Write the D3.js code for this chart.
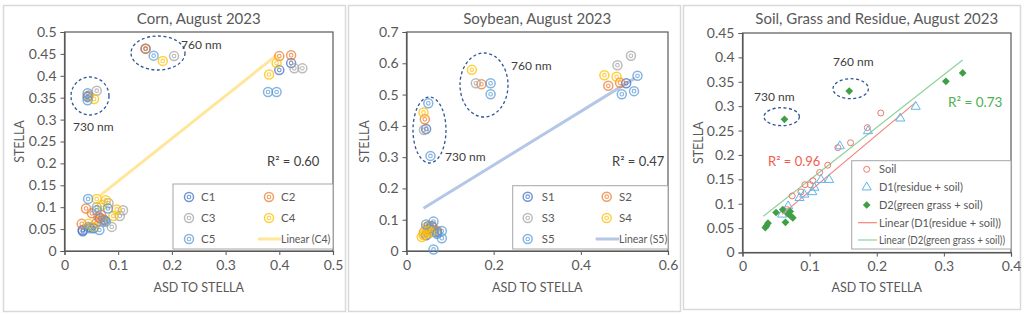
<!DOCTYPE html>
<html>
<head>
<meta charset="utf-8">
<script src="https://cdn.jsdelivr.net/npm/d3@7"></script>
<style>
  body { margin: 0; background: #fff; }
  svg { display: block; font-family: Lato, "Open Sans", sans-serif; }
</style>
</head>
<body>
<svg id="chart" width="1024" height="314"></svg>
<script>
// ---- data ----
const cornNames = ["C1", "C2", "C3", "C4", "C5"];
const cornC1 = [[0.043, 0.352], [0.151, 0.462], [0.422, 0.429], [0.400, 0.413], [0.066, 0.075], [0.034, 0.048], [0.034, 0.045], [0.054, 0.052], [0.045, 0.055], [0.075, 0.070]];
const cornC2 = [[0.045, 0.355], [0.151, 0.462], [0.400, 0.445], [0.422, 0.447], [0.040, 0.097], [0.051, 0.086], [0.063, 0.078], [0.059, 0.063], [0.032, 0.062], [0.068, 0.082], [0.072, 0.072]];
const cornC3 = [[0.060, 0.366], [0.204, 0.445], [0.428, 0.417], [0.443, 0.417], [0.082, 0.109], [0.109, 0.093], [0.103, 0.080], [0.072, 0.067], [0.088, 0.055], [0.060, 0.100]];
const cornC4 = [[0.055, 0.347], [0.183, 0.434], [0.395, 0.429], [0.381, 0.403], [0.060, 0.119], [0.077, 0.116], [0.097, 0.095], [0.091, 0.080], [0.044, 0.062], [0.054, 0.055], [0.070, 0.105]];
const cornC5 = [[0.043, 0.360], [0.043, 0.344], [0.166, 0.446], [0.379, 0.363], [0.395, 0.363], [0.044, 0.119], [0.081, 0.097], [0.060, 0.093], [0.077, 0.067], [0.047, 0.052], [0.065, 0.048]];
const cornTrendX = [0.066, 0.395];
const cornTrendFit = [0.975, 0.062]; // slope, intercept
const cornR2 = "R² = 0.60";

const soyNames = ["S1", "S2", "S3", "S4", "S5"];
const soyS1 = [[0.045, 0.390], [0.504, 0.536], [0.050, 0.070], [0.070, 0.060], [0.045, 0.050], [0.058, 0.080]];
const soyS2 = [[0.042, 0.421], [0.172, 0.533], [0.463, 0.528], [0.490, 0.538], [0.040, 0.060], [0.060, 0.075], [0.070, 0.065], [0.050, 0.080]];
const soyS3 = [[0.040, 0.387], [0.159, 0.536], [0.515, 0.624], [0.484, 0.594], [0.050, 0.055], [0.060, 0.065]];
const soyS4 = [[0.039, 0.443], [0.150, 0.579], [0.454, 0.562], [0.482, 0.557], [0.039, 0.051], [0.035, 0.045], [0.050, 0.065], [0.045, 0.075], [0.055, 0.060]];
const soyS5 = [[0.050, 0.472], [0.055, 0.304], [0.193, 0.536], [0.193, 0.501], [0.530, 0.560], [0.494, 0.501], [0.522, 0.511], [0.062, 0.094], [0.081, 0.064], [0.081, 0.041], [0.062, 0.005], [0.045, 0.085], [0.070, 0.055]];
const soyTrendX = [0.039, 0.524];
const soyTrendFit = [0.858, 0.103];
const soyR2 = "R² = 0.47";

const soilNames = ["Soil", "D1(residue + soil)", "D2(green grass + soil)", "Linear (D1(residue + soil))", "Linear (D2(green grass + soil))"];
const soilPts = [[0.066, 0.088], [0.074, 0.116], [0.087, 0.124], [0.093, 0.139], [0.101, 0.139], [0.105, 0.147], [0.115, 0.164], [0.127, 0.179], [0.142, 0.215], [0.161, 0.225], [0.186, 0.256], [0.206, 0.286]];
const d1Pts = [[0.059, 0.078], [0.068, 0.095], [0.085, 0.112], [0.092, 0.119], [0.104, 0.124], [0.107, 0.133], [0.117, 0.149], [0.129, 0.149], [0.145, 0.218], [0.187, 0.249], [0.235, 0.275], [0.258, 0.299]];
const d2Pts = [[0.034, 0.051], [0.036, 0.055], [0.038, 0.060], [0.050, 0.082], [0.060, 0.088], [0.064, 0.062], [0.068, 0.079], [0.071, 0.084], [0.072, 0.075], [0.075, 0.071], [0.0625, 0.273], [0.159, 0.331], [0.303, 0.351], [0.328, 0.368]];
const d1TrendX = [0.059, 0.258];
const d1TrendFit = [1.154, 0.010];
const d2TrendX = [0.031, 0.328];
const d2TrendFit = [1.078, 0.041];
const d1R2 = "R² = 0.96";
const d2R2 = "R² = 0.73";

const xTicks1 = [0, 0.1, 0.2, 0.3, 0.4, 0.5];
const yTicks1 = [0, 0.05, 0.1, 0.15, 0.2, 0.25, 0.3, 0.35, 0.4, 0.45, 0.5];
const xTicks2 = [0, 0.2, 0.4, 0.6];
const yTicks2 = [0, 0.1, 0.2, 0.3, 0.4, 0.5, 0.6, 0.7];
const xTicks3 = [0, 0.1, 0.2, 0.3, 0.4];
const yTicks3 = [0, 0.05, 0.1, 0.15, 0.2, 0.25, 0.3, 0.35, 0.4, 0.45];

const seriesColors = ["#4472c4", "#ed7d31", "#a5a5a5", "#ffc000", "#5b9bd5"];
const axisGray = "#595959";
const ringBlue = "#2f5597";

const svg = d3.select("#chart");

function frame(x, y, w, h) {
  svg.append("rect").attr("x", x + 0.5).attr("y", y + 0.5).attr("width", w).attr("height", h)
    .attr("fill", "#fff").attr("stroke", "#d9d9d9").attr("stroke-width", 1.5);
}

function makeAxes(p) {
  const x = d3.scaleLinear().domain(p.xDomain).range([p.left, p.right]);
  const y = d3.scaleLinear().domain(p.yDomain).range([p.bottom, p.top]);
  const fmt = d => String(+d.toFixed(2));

  svg.append("rect").attr("x", p.left).attr("y", p.top)
    .attr("width", p.right - p.left).attr("height", p.bottom - p.top)
    .attr("fill", "none").attr("stroke", axisGray).attr("stroke-width", 1.2);

  const gx = svg.append("g").attr("transform", `translate(0,${p.bottom})`)
    .call(d3.axisBottom(x).tickValues(p.xTicks).tickFormat(fmt).tickSizeOuter(0).tickSize(4).tickPadding(5));
  const gy = svg.append("g").attr("transform", `translate(${p.left},0)`)
    .call(d3.axisLeft(y).tickValues(p.yTicks).tickFormat(fmt).tickSizeOuter(0).tickSize(4).tickPadding(4));
  [gx, gy].forEach(g => {
    g.select(".domain").attr("stroke", axisGray).attr("stroke-width", 1.2);
    g.selectAll(".tick line").attr("stroke", axisGray);
    g.selectAll(".tick text").attr("fill", axisGray).style("font-size", "14px").style("font-family", "Lato, sans-serif");
  });

  svg.append("text").attr("x", (p.left + p.right) / 2).attr("y", 24)
    .attr("text-anchor", "middle").attr("fill", axisGray).style("font-size", "15px").text(p.title);
  svg.append("text").attr("x", (p.left + p.right) / 2).attr("y", 292)
    .attr("text-anchor", "middle").attr("fill", axisGray).style("font-size", "12.5px").text("ASD TO STELLA");
  svg.append("text").attr("transform", `translate(${p.yLabelX},${(p.top + p.bottom) / 2}) rotate(-90)`)
    .attr("text-anchor", "middle").attr("fill", axisGray).style("font-size", "12.5px").text("STELLA");
  return { x, y };
}

function target(g, cx, cy, color) {
  const m = g.append("g").attr("opacity", 0.75);
  m.append("circle").attr("cx", cx).attr("cy", cy).attr("r", 4.5)
    .attr("fill", "none").attr("stroke", color).attr("stroke-width", 1.5);
  m.append("circle").attr("cx", cx).attr("cy", cy).attr("r", 1.8)
    .attr("fill", "none").attr("stroke", color).attr("stroke-width", 1.1);
}

function ring(cx, cy, rx, ry) {
  svg.append("ellipse").attr("cx", cx).attr("cy", cy).attr("rx", rx).attr("ry", ry)
    .attr("fill", "none").attr("stroke", ringBlue).attr("stroke-width", 1.3)
    .attr("stroke-dasharray", "3,2.5");
}

function note(x, y, txt, color, size) {
  svg.append("text").attr("x", x).attr("y", y).attr("fill", color || "#404040")
    .style("font-size", (size || 12) + "px").text(txt);
}

function trend(sc, xr, fit, color, width) {
  const line = d3.line().x(d => sc.x(d)).y(d => sc.y(fit[0] * d + fit[1]));
  svg.append("path").datum(xr).attr("d", line).attr("fill", "none")
    .attr("stroke", color).attr("stroke-width", width);
}

function targetPanel(p, names, series, trendX, trendFit, trendColor, r2) {
  const sc = makeAxes(p);
  trend(sc, trendX, trendFit, trendColor, 3);
  const g = svg.append("g");
  series.forEach((pts, i) => pts.forEach(d => target(g, sc.x(d[0]), sc.y(d[1]), seriesColors[i])));

  const L = p.legend;
  svg.append("rect").attr("x", L.x).attr("y", L.y).attr("width", L.w).attr("height", L.h)
    .attr("fill", "#fff").attr("stroke", "#a6a6a6");
  names.forEach((n, i) => {
    const col = i % 2, row = Math.floor(i / 2);
    const mx = col ? L.m2 : L.m1, tx = col ? L.t2 : L.t1;
    target(svg, mx, L.rows[row], seriesColors[i]);
    svg.append("text").attr("x", tx).attr("y", L.rows[row] + 4).attr("fill", axisGray)
      .style("font-size", "11.5px").text(n);
  });
  svg.append("line").attr("x1", L.l0).attr("x2", L.t2).attr("y1", L.rows[2]).attr("y2", L.rows[2])
    .attr("stroke", trendColor).attr("stroke-width", 3);
  svg.append("text").attr("x", L.t2).attr("y", L.rows[2] + 4).attr("fill", axisGray)
    .style("font-size", "10.5px").text(`Linear (${names[p.trendIdx]})`);
  note(p.r2x, p.r2y, r2, "#404040", 13);
  return sc;
}

// ---- panel 1: corn ----
frame(3, 5, 342, 306);
targetPanel({
  title: "Corn, August 2023", left: 64.5, right: 333, top: 32, bottom: 251, yLabelX: 24,
  xDomain: [0, 0.5], yDomain: [0, 0.5], xTicks: xTicks1, yTicks: yTicks1, trendIdx: 3,
  legend: { x: 173, y: 184, w: 160, h: 65, m1: 189, t1: 201, m2: 269, t2: 281, l0: 258, rows: [197, 218, 239] },
  r2x: 267, r2y: 166
}, cornNames, [cornC1, cornC2, cornC3, cornC4, cornC5], cornTrendX, cornTrendFit, "#ffe699", cornR2);
ring(158, 53, 27, 17);
ring(90, 96, 19, 19);
note(181, 49, "760 nm");
note(73, 131, "730 nm");

// ---- panel 2: soybean ----
frame(348, 5, 332, 306);
targetPanel({
  title: "Soybean, August 2023", left: 406.5, right: 668, top: 32, bottom: 251, yLabelX: 369,
  xDomain: [0, 0.6], yDomain: [0, 0.7], xTicks: xTicks2, yTicks: yTicks2, trendIdx: 4,
  legend: { x: 512.7, y: 185.7, w: 155.3, h: 63.3, m1: 527.7, t1: 541.7, m2: 606.7, t2: 619, l0: 595.7, rows: [196.7, 218, 239] },
  r2x: 612, r2y: 166
}, soyNames, [soyS1, soyS2, soyS3, soyS4, soyS5], soyTrendX, soyTrendFit, "#b4c7e7", soyR2);
ring(484, 85, 24, 32);
ring(429.5, 130, 16.5, 33);
note(511, 70, "760 nm");
note(445, 161, "730 nm");

// ---- panel 3: soil, grass and residue ----
frame(683, 5, 337, 304);
const sc3 = makeAxes({
  title: "Soil, Grass and Residue, August 2023", left: 742.5, right: 1011, top: 33, bottom: 252.5, yLabelX: 703,
  xDomain: [0, 0.4], yDomain: [0, 0.45], xTicks: xTicks3, yTicks: yTicks3
});
const soilRed = "#f0776a", d1Blue = "#5fb7ea", d2Green = "#3f9f44";
trend(sc3, d1TrendX, d1TrendFit, "#f4837a", 1.2);
trend(sc3, d2TrendX, d2TrendFit, "#8fd39a", 1.2);
const diamond = d3.symbol().type(d3.symbolSquare).size(30);
const tri = d3.symbol().type(d3.symbolTriangle).size(36);
svg.append("g").selectAll("circle").data(soilPts).join("circle")
  .attr("cx", d => sc3.x(d[0])).attr("cy", d => sc3.y(d[1])).attr("r", 3)
  .attr("fill", "none").attr("stroke", soilRed).attr("stroke-width", 1);
svg.append("g").selectAll("path").data(d1Pts).join("path")
  .attr("transform", d => `translate(${sc3.x(d[0])},${sc3.y(d[1])})`).attr("d", tri)
  .attr("fill", "none").attr("stroke", d1Blue).attr("stroke-width", 1);
svg.append("g").selectAll("path").data(d2Pts).join("path")
  .attr("transform", d => `translate(${sc3.x(d[0])},${sc3.y(d[1])}) rotate(45)`).attr("d", diamond)
  .attr("fill", d2Green);

const L3 = { x: 851.7, y: 160.7, w: 159.3, h: 88.3, m: 866.7, t: 879, l0: 858, rows: [169.3, 187.3, 205, 222.7, 240] };
svg.append("rect").attr("x", L3.x).attr("y", L3.y).attr("width", L3.w).attr("height", L3.h)
  .attr("fill", "#fff").attr("stroke", "#a6a6a6");
svg.append("circle").attr("cx", L3.m).attr("cy", L3.rows[0]).attr("r", 3)
  .attr("fill", "none").attr("stroke", soilRed);
svg.append("path").attr("transform", `translate(${L3.m},${L3.rows[1]})`).attr("d", tri)
  .attr("fill", "none").attr("stroke", d1Blue);
svg.append("path").attr("transform", `translate(${L3.m},${L3.rows[2]}) rotate(45)`).attr("d", diamond)
  .attr("fill", d2Green);
[["#f4837a", 3], ["#8fd39a", 4]].forEach(([c, r]) => {
  svg.append("line").attr("x1", L3.l0).attr("x2", L3.t - 2).attr("y1", L3.rows[r]).attr("y2", L3.rows[r])
    .attr("stroke", c).attr("stroke-width", 1.2);
});
soilNames.forEach((n, i) => {
  svg.append("text").attr("x", L3.t).attr("y", L3.rows[i] + 4).attr("fill", axisGray)
    .style("font-size", "11px").attr("textLength", i === 4 ? 126 : null)
    .attr("lengthAdjust", "spacingAndGlyphs").text(n);
});
note(768, 166, d1R2, "#f05a4f", 13);
note(948, 107, d2R2, "#4caf50", 13.5);
ring(850.7, 88.7, 17.7, 10);
ring(781.7, 116.7, 17.7, 9);
note(833, 66, "760 nm");
note(754, 101, "730 nm");
</script>
</body>
</html>
